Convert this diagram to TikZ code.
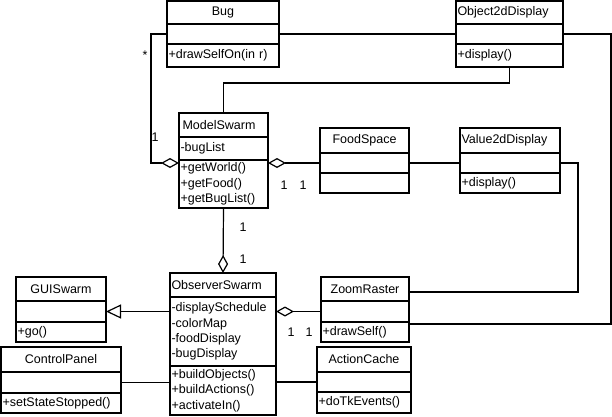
\documentclass[tikz,border=0pt]{standalone}
\usepackage{fontspec}
\setmainfont{Liberation Sans}
\usetikzlibrary{positioning,arrows.meta}

\begin{document}
\begin{tikzpicture}[x=1pt,y=-1pt,line width=1.2pt,
     class/.style={draw,outer sep=0pt,inner xsep=1.5pt,inner ysep=0pt,
       font=\fontsize{12.5}{15.3}\selectfont},
     title/.style={class,anchor=north west,align=center},
     part/.style={class,align=left},
     mult/.style={font=\fontsize{12.5}{15}\selectfont,inner sep=0pt},
     agg/.style={{Diamond[open,length=18pt,width=10pt]}-},
     gen/.style={-{Triangle[open,length=15pt,width=14pt]}}]

      \useasboundingbox (0,0) rectangle (612,416);

      \node[title,text width=109pt,minimum height=23pt] (bug) at (167,1) {Bug};
      \node[part,text width=109pt,minimum height=20pt] (bug-a) [below=0pt of bug] {};
      \node[part,text width=109pt,minimum height=23pt] (bug-o) [below=0pt of bug-a] {+drawSelfOn(in r)};

      \node[title,text width=104pt,minimum height=23pt,align=left] (obj) at (456,1) {Object2dDisplay};
      \node[part,text width=104pt,minimum height=20pt] (obj-a) [below=0pt of obj] {};
      \node[part,text width=104pt,minimum height=23pt] (obj-o) [below=0pt of obj-a] {+display()};

      \node[title,text width=86pt,minimum height=24pt,align=left] (ms) at (179,113) {\hspace{2pt}ModelSwarm};
      \node[part,text width=86pt,minimum height=23pt] (ms-a) [below=0pt of ms] {-bugList};
      \node[part,text width=86pt,minimum height=48pt] (ms-o) [below=0pt of ms-a] {+getWorld()\\+getFood()\\+getBugList()};

      \node[title,text width=86pt,minimum height=25pt] (fs) at (320,128) {FoodSpace};
      \node[part,text width=86pt,minimum height=20pt] (fs-a) [below=0pt of fs] {};
      \node[part,text width=86pt,minimum height=20pt] (fs-o) [below=0pt of fs-a] {};

      \node[title,text width=97pt,minimum height=25pt,align=left] (v2d) at (460,128) {Value2dDisplay};
      \node[part,text width=97pt,minimum height=20pt] (v2d-a) [below=0pt of v2d] {};
      \node[part,text width=97pt,minimum height=20pt] (v2d-o) [below=0pt of v2d-a] {+display()};

      \node[title,text width=87pt,minimum height=24pt] (gui) at (16,277) {GUISwarm};
      \node[part,text width=87pt,minimum height=21pt] (gui-a) [below=0pt of gui] {};
      \node[part,text width=87pt,minimum height=20pt] (gui-o) [below=0pt of gui-a] {+go()};

      \node[title,text width=103pt,minimum height=24pt,align=left] (os) at (170,273) {ObserverSwarm};
      \node[part,text width=103pt,minimum height=69pt] (os-a) [below=0pt of os] {-displaySchedule\\-colorMap\\-foodDisplay\\-bugDisplay};
      \node[part,text width=103pt,minimum height=49pt] (os-o) [below=0pt of os-a] {+buildObjects()\\+buildActions()\\+activateIn()};

      \node[title,text width=85pt,minimum height=24pt] (zr) at (321,277) {ZoomRaster};
      \node[part,text width=85pt,minimum height=21pt] (zr-a) [below=0pt of zr] {};
      \node[part,text width=85pt,minimum height=20pt] (zr-o) [below=0pt of zr-a] {+drawSelf()};

      \node[title,text width=117pt,minimum height=25pt] (cp) at (1,347) {ControlPanel};
      \node[part,text width=117pt,minimum height=21pt] (cp-a) [below=0pt of cp] {};
      \node[part,text width=117pt,minimum height=20pt] (cp-o) [below=0pt of cp-a] {+setStateStopped()};

      \node[title,text width=91pt,minimum height=25pt] (ac) at (317,347) {ActionCache};
      \node[part,text width=91pt,minimum height=20pt] (ac-a) [below=0pt of ac] {};
      \node[part,text width=91pt,minimum height=21pt] (ac-o) [below=0pt of ac-a] {+doTkEvents()};

      \foreach \s/\t in {bug-a.east/obj-a.west, fs-a.east/v2d-a.west} {
       \path[draw] (\s) -- (\t);}

      \draw[agg] (ms-o.west |- fs-a.west) -- ++(-28,0) |- (bug-a.west);
      \draw (obj-o.south) -- ++(0,16) -| (ms.north);
      \draw[agg] (ms-o.east |- fs-a.west) -- (fs-a.west);
      \draw (v2d-a.east) -- ++(18,0) |- ([yshift=-3pt]zr.east);
      \draw (obj-a.east) -- ++(48,0) |- ([yshift=-2pt]zr-o.north east);
      \draw[agg] (os.north) -- (ms-o.south);
      \draw[gen] (os-a.west |- gui-a.east) -- (gui-a.east);
      \draw[agg] (os-a.east |- zr-a.west) -- (zr-a.west);
      \draw (cp-a.east) -- (cp-a.east -| os-o.west);
      \draw (ac-a.west) -- (ac-a.west -| os-o.east);

      \node[mult] (m1) at (145,55) {*};
      \node[mult] (m2) at (155,137) {1};
      \node[mult] (m3) at (284,185) {1};
      \node[mult] (m4) at (303,185) {1};
      \node[mult] (m5) at (243,227) {1};
      \node[mult] (m6) at (243,259) {1};
      \node[mult] (m7) at (291,332) {1};
      \node[mult] (m8) at (309,332) {1};
    \end{tikzpicture}
\end{document}
